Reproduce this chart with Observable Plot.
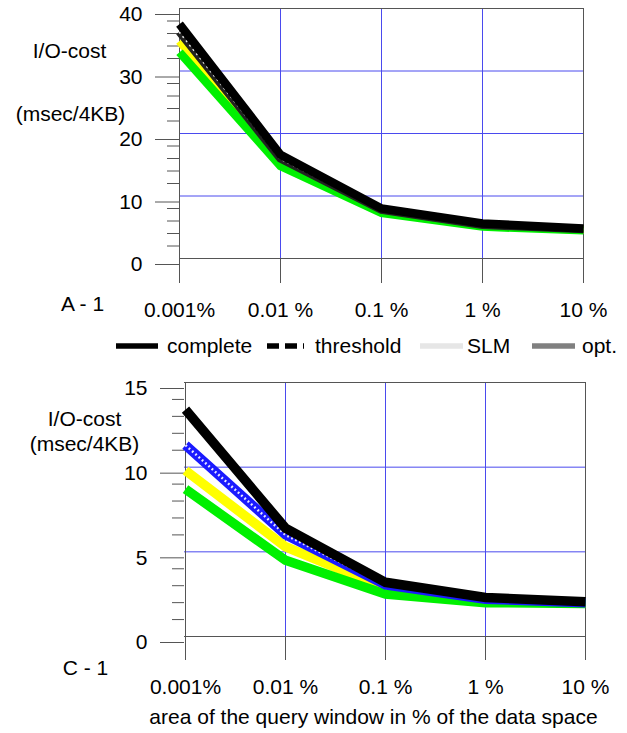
<!DOCTYPE html>
<html>
<head>
<meta charset="utf-8">
<script src="https://cdn.jsdelivr.net/npm/d3@7"></script>
<script src="https://cdn.jsdelivr.net/npm/@observablehq/plot@0.6"></script>
<style>
  body { margin: 0; background: #fff; font-family: "Liberation Sans", Arial, sans-serif; }
  #wrap { position: relative; width: 627px; height: 733px; overflow: hidden; background: #fff; }
  #top { position: absolute; left: 0; top: 0; }
  #legend { position: absolute; left: 0; top: 331px; }
  #bottom { position: absolute; left: 0; top: 360px; }
  svg text { font-family: "Liberation Sans", Arial, sans-serif; }
</style>
</head>
<body>
<div id="wrap">
  <div id="top"></div>
  <div id="legend"></div>
  <div id="bottom"></div>
</div>
<script>
// ---- data ----
const areas = ["0.001%", "0.01 %", "0.1 %", "1 %", "10 %"];

// panel A - 1
const aComplete  = [37.5, 16.6, 8.0, 5.6, 4.8];
const aThreshold = [36.3, 16.0, 7.8, 5.4, 4.7];
const aSLM       = [34.8, 15.5, 7.5, 5.3, 4.6];
const aOpt       = [33.0, 14.8, 7.3, 5.1, 4.5];
const aMajorTicks = [0, 10, 20, 30, 40];
const aMinorTicks = [2, 4, 6, 8, 12, 14, 16, 18, 22, 24, 26, 28, 32, 34, 36, 38];

// panel C - 1
const cComplete  = [13.4, 6.4, 3.2, 2.3, 2.05];
const cThreshold = [11.3, 6.0, 3.05, 2.2, 2.0];
const cSLM       = [9.8, 5.3, 2.85, 2.1, 1.98];
const cOpt       = [8.7, 4.5, 2.5, 2.0, 1.95];
const cMajorTicks = [0, 5, 10, 15];
const cMinorTicks = [1, 2, 3, 4, 6, 7, 8, 9, 11, 12, 13, 14];

const legendNames = ["complete", "threshold", "SLM", "opt."];
const yLabel1 = "I/O-cost";
const yLabel2 = "(msec/4KB)";
const xTitle = "area of the query window in % of the data space";

// ---- styles ----
const frameColor = "#555";
const gridColor = "#4a4aee";
const FONT = "Liberation Sans, Arial, sans-serif";
const FS = 21;

function rows(vals) { return areas.map((a, i) => ({area: a, value: vals[i]})); }

function panel(cfg) {
  const yMax = cfg.majors[cfg.majors.length - 1];
  const lw = cfg.lw;
  const lineOpts = {x: "area", y: "value", strokeLinejoin: "miter", strokeLinecap: "butt", strokeMiterlimit: 10};
  const marks = [
    Plot.ruleY(cfg.majors.slice(1, -1), {stroke: gridColor, strokeWidth: 1}),
    Plot.ruleX(areas.slice(1, -1), {stroke: gridColor, strokeWidth: 1}),
    Plot.ruleY([0, yMax], {stroke: frameColor}),
    Plot.ruleX([areas[0], areas[areas.length - 1]], {stroke: frameColor}),
    Plot.axisY({ticks: cfg.minors, tickSize: 12, tickFormat: () => "", stroke: frameColor, label: null}),
    Plot.axisY({ticks: cfg.majors, tickSize: 24, tickPadding: 13, dy: 6, stroke: frameColor, fill: "#000", label: null}),
    Plot.axisX({tickSize: cfg.xTickSize, tickPadding: cfg.xTickPadding, stroke: frameColor, fill: "#000", label: null}),
    Plot.line(rows(cfg.slm), {...lineOpts, stroke: "#ffff00", strokeWidth: lw}),
    Plot.line(rows(cfg.opt), {...lineOpts, stroke: "#00f000", strokeWidth: lw}),
    Plot.line(rows(cfg.threshold), {...lineOpts, stroke: cfg.thresholdColor, strokeWidth: lw}),
    Plot.line(rows(cfg.threshold), {...lineOpts, stroke: "#fff", strokeWidth: 2.5, strokeDasharray: cfg.dotDash, strokeOpacity: 0.9}),
    Plot.line(rows(cfg.complete), {...lineOpts, stroke: "#000", strokeWidth: lw}),
    ...cfg.texts.map(t => Plot.text([t.text], {text: d => d, frameAnchor: t.anchor, dx: t.dx, dy: t.dy, fill: "#000", textAnchor: "middle"}))
  ];
  return Plot.plot({
    width: 627,
    height: cfg.height,
    marginLeft: cfg.marginLeft,
    marginRight: cfg.marginRight,
    marginTop: cfg.marginTop,
    marginBottom: cfg.marginBottom,
    style: {fontFamily: FONT, fontSize: FS + "px", background: "transparent", color: "#000"},
    x: {type: "point", domain: areas, padding: 0},
    y: {domain: [0, yMax]},
    marks
  });
}

document.getElementById("top").append(panel({
  height: 330, marginLeft: 179, marginRight: 44, marginTop: 8, marginBottom: 72,
  majors: aMajorTicks, minors: aMinorTicks, lw: 8.5,
  complete: aComplete, threshold: aThreshold, slm: aSLM, opt: aOpt,
  thresholdColor: "#222", dotDash: "2,3.5",
  xTickSize: 25, xTickPadding: 19,
  texts: [
    {text: yLabel1, anchor: "top-left", dx: -110, dy: 35},
    {text: yLabel2, anchor: "top-left", dx: -109, dy: 98},
    {text: "A - 1", anchor: "bottom-left", dx: -97, dy: 52}
  ]
}));

document.getElementById("bottom").append(panel({
  height: 373, marginLeft: 184, marginRight: 42, marginTop: 22, marginBottom: 97,
  majors: cMajorTicks, minors: cMinorTicks, lw: 9.5,
  complete: cComplete, threshold: cThreshold, slm: cSLM, opt: cOpt,
  thresholdColor: "#1a1aff", dotDash: "1.8,2.6",
  xTickSize: 24, xTickPadding: 19,
  texts: [
    {text: yLabel1, anchor: "top-left", dx: -100, dy: 29},
    {text: yLabel2, anchor: "top-left", dx: -100, dy: 54},
    {text: "C - 1", anchor: "bottom-left", dx: -99, dy: 38},
    {text: xTitle, anchor: "bottom", dx: -11.5, dy: 87}
  ]
}));

// ---- legend ----
(function() {
  const ns = "http://www.w3.org/2000/svg";
  const svg = document.createElementNS(ns, "svg");
  svg.setAttribute("width", 627);
  svg.setAttribute("height", 30);
  const swatches = [
    {x1: 116, x2: 158, stroke: "#000", w: 5.5, dash: null, tx: 167},
    {x1: 267, x2: 304, stroke: "#000", w: 5.5, dash: "12,6", tx: 315},
    {x1: 420, x2: 463, stroke: "#e6e6e6", w: 5.5, dash: null, tx: 467},
    {x1: 532, x2: 575, stroke: "#808080", w: 5.5, dash: null, tx: 582}
  ];
  legendNames.forEach((name, i) => {
    const s = swatches[i];
    const l = document.createElementNS(ns, "line");
    l.setAttribute("x1", s.x1); l.setAttribute("x2", s.x2);
    l.setAttribute("y1", 15); l.setAttribute("y2", 15);
    l.setAttribute("stroke", s.stroke); l.setAttribute("stroke-width", s.w);
    if (s.dash) l.setAttribute("stroke-dasharray", s.dash);
    svg.append(l);
    const t = document.createElementNS(ns, "text");
    t.setAttribute("x", s.tx); t.setAttribute("y", 15);
    t.setAttribute("dy", "0.35em");
    t.setAttribute("font-size", FS + "px");
    t.textContent = name;
    svg.append(t);
  });
  document.getElementById("legend").append(svg);
})();
</script>
</body>
</html>
